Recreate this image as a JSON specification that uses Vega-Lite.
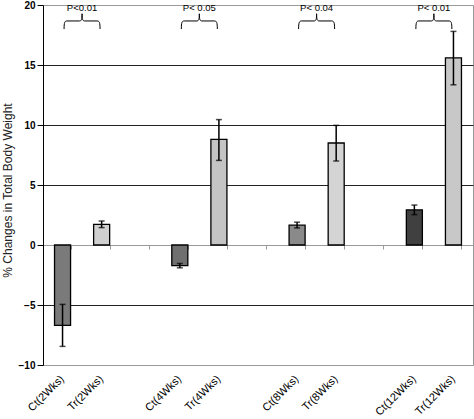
{
  "$schema": "https://vega.github.io/schema/vega-lite/v6.json",
  "width": 430,
  "height": 360,
  "autosize": {"type": "none"},
  "padding": {"left": 43, "top": 5, "right": 1, "bottom": 54},
  "config": {
    "font": "Liberation Sans",
    "view": {"stroke": "#9a9a9a", "strokeWidth": 1}
  },
  "datasets": {
    "bars": [
      {"label": "Ct(2Wks)", "value": -6.7, "low": -8.45, "high": -4.95},
      {"label": "Tr(2Wks)", "value": 1.72, "low": 1.45, "high": 2.0},
      {"label": "Ct(4Wks)", "value": -1.72, "low": -1.9, "high": -1.54},
      {"label": "Tr(4Wks)", "value": 8.8, "low": 7.05, "high": 10.45},
      {"label": "Ct(8Wks)", "value": 1.65, "low": 1.42, "high": 1.9},
      {"label": "Tr(8Wks)", "value": 8.5, "low": 7.0, "high": 9.97},
      {"label": "Ct(12Wks)", "value": 2.93, "low": 2.53, "high": 3.33},
      {"label": "Tr(12Wks)", "value": 15.6, "low": 13.35, "high": 17.8}
    ],
    "pairs": [
      {"label": "Ct(2Wks)", "p": "P<0.01"},
      {"label": "Ct(4Wks)", "p": "P< 0.05"},
      {"label": "Ct(8Wks)", "p": "P< 0.04"},
      {"label": "Ct(12Wks)", "p": "P< 0.01"}
    ]
  },
  "resolve": {"axis": {"x": "independent"}},
  "layer": [
    {
      "data": {"name": "bars"},
      "mark": {"type": "bar", "stroke": "#000", "strokeWidth": 1.3},
      "encoding": {
        "x": {
          "field": "label",
          "type": "nominal",
          "sort": null,
          "scale": {
            "domain": ["Ct(2Wks)", "Tr(2Wks)", " ", "Ct(4Wks)", "Tr(4Wks)", "  ", "Ct(8Wks)", "Tr(8Wks)", "   ", "Ct(12Wks)", "Tr(12Wks)"],
            "paddingInner": 0.59,
            "paddingOuter": 0.295
          },
          "axis": {
            "orient": "bottom",
            "title": null,
            "domain": false,
            "ticks": false,
            "labelAngle": -45,
            "labelAlign": "right",
            "labelBaseline": "middle",
            "labelFontSize": 11,
            "labelColor": "#000",
            "labelPadding": 12
          }
        },
        "y": {
          "field": "value",
          "type": "quantitative",
          "scale": {"domain": [-10, 20], "nice": false, "zero": false},
          "axis": {
            "values": [-10, -5, 0, 5, 10, 15, 20],
            "title": "% Changes in Total Body Weight",
            "titleFontSize": 12,
            "titleFontWeight": "normal",
            "titleColor": "#222",
            "titleAngle": -90,
            "titleX": -36,
            "titleY": 185,
            "titleAlign": "center",
            "titleBaseline": "middle",
            "labelFontSize": 10,
            "labelFontWeight": "bold",
            "labelColor": "#000",
            "labelPadding": 2,
            "tickSize": 6,
            "tickColor": "#000",
            "domainColor": "#000",
            "grid": true,
            "gridColor": {"condition": {"test": "datum.value === 0 || datum.value === 20 || datum.value === -10", "value": "#9a9a9a"}, "value": "#222"},
            "gridWidth": 1.2
          }
        },
        "y2": {"datum": 0},
        "fill": {
          "field": "label",
          "type": "nominal",
          "legend": null,
          "scale": {
            "domain": ["Ct(2Wks)", "Tr(2Wks)", "Ct(4Wks)", "Tr(4Wks)", "Ct(8Wks)", "Tr(8Wks)", "Ct(12Wks)", "Tr(12Wks)"],
            "range": ["#7a7a7a", "#cfcfcf", "#707070", "#c4c4c4", "#8a8a8a", "#d4d4d4", "#404040", "#c8c8c8"]
          }
        }
      }
    },
    {
      "data": {"name": "bars"},
      "mark": {"type": "rule", "color": "#000", "strokeWidth": 1.5},
      "encoding": {
        "x": {
          "field": "label",
          "type": "nominal",
          "sort": null,
          "axis": {
            "orient": "bottom",
            "offset": -120,
            "title": null,
            "labels": false,
            "domain": true,
            "domainColor": "#9a9a9a",
            "ticks": true,
            "tickBand": "extent",
            "tickSize": 4,
            "tickColor": "#9a9a9a"
          }
        },
        "y": {"field": "low", "type": "quantitative"},
        "y2": {"field": "high"}
      }
    },
    {
      "data": {"name": "bars"},
      "mark": {"type": "tick", "orient": "horizontal", "color": "#000", "size": 6, "thickness": 1.5},
      "encoding": {
        "x": {"field": "label", "type": "nominal", "sort": null, "axis": null},
        "y": {"field": "low", "type": "quantitative"}
      }
    },
    {
      "data": {"name": "bars"},
      "mark": {"type": "tick", "orient": "horizontal", "color": "#000", "size": 6, "thickness": 1.5},
      "encoding": {
        "x": {"field": "label", "type": "nominal", "sort": null, "axis": null},
        "y": {"field": "high", "type": "quantitative"}
      }
    },
    {
      "data": {"name": "pairs"},
      "mark": {
        "type": "point",
        "shape": "M -1 0.45 C -1 0.08 -0.96 0 -0.84 0 L -0.14 0 C -0.04 0 0 -0.08 0 -0.4 C 0 -0.08 0.04 0 0.14 0 L 0.84 0 C 0.96 0 1 0.08 1 0.45",
        "filled": false,
        "stroke": "#000",
        "strokeWidth": 1,
        "opacity": 1,
        "size": 1296,
        "xOffset": 11.5
      },
      "encoding": {
        "x": {"field": "label", "type": "nominal", "sort": null, "bandPosition": 1, "axis": null},
        "y": {"datum": 18.67}
      }
    },
    {
      "data": {"name": "pairs"},
      "mark": {"type": "text", "fontSize": 9.5, "color": "#000", "baseline": "middle", "align": "center", "xOffset": 11.5},
      "encoding": {
        "x": {"field": "label", "type": "nominal", "sort": null, "bandPosition": 1, "axis": null},
        "y": {"datum": 19.75},
        "text": {"field": "p"}
      }
    }
  ]
}
